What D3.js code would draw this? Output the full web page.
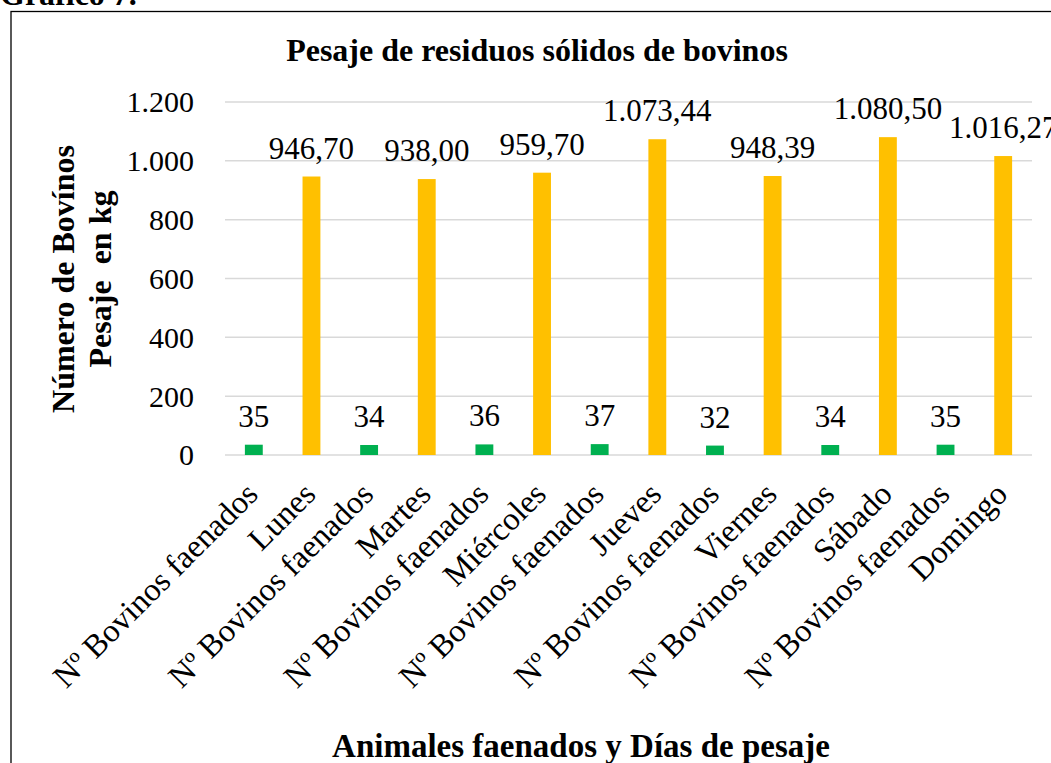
<!DOCTYPE html>
<html><head><meta charset="utf-8">
<script src="https://cdn.jsdelivr.net/npm/d3@7"></script>
<style>body{margin:0;background:#fff;} svg{display:block;} text{font-family:"Liberation Serif","Times New Roman",serif;fill:#000;}</style>
</head><body><svg id="c" width="1051" height="763"></svg>
<script>
const categories = ["Nº Bovinos faenados","Lunes","Nº Bovinos faenados","Martes","Nº Bovinos faenados","Miércoles","Nº Bovinos faenados","Jueves","Nº Bovinos faenados","Viernes","Nº Bovinos faenados","Sábado","Nº Bovinos faenados","Domingo"];
const values = [35,946.70,34,938.00,36,959.70,37,1073.44,32,948.39,34,1080.50,35,1016.27];
const kinds = ["animales","peso","animales","peso","animales","peso","animales","peso","animales","peso","animales","peso","animales","peso"];
const yTicks = [0,200,400,600,800,1000,1200];
const colors = {animales:"#00B050", peso:"#FFC000"};
const title = "Pesaje de residuos sólidos de bovinos";
const xTitle = "Animales faenados y Días de pesaje";
const yTitle = ["Número de Bovínos","Pesaje\u00a0 en kg"];

const svg = d3.select("#c");
const m = {left:225, right:1032, top:102, bottom:455};
const x = d3.scaleBand().domain(d3.range(categories.length)).range([m.left,m.right]).paddingInner(0.69).paddingOuter(0.345);
const y = d3.scaleLinear().domain([0,1200]).range([m.bottom,m.top]);
const fmtNum = v => d3.format(",")(v).replace(/,/g,".");
const fmtLabel = (v,k) => k==="animales" ? String(v) : d3.format(",.2f")(v).replace(/,/g,"#").replace(/\./g,",").replace(/#/g,".");

// frame
svg.append("rect").attr("x",11).attr("y",11.5).attr("width",1060).attr("height",780).attr("fill","none").attr("stroke","#000").attr("stroke-width",1.3);
svg.append("text").attr("x",0).attr("y",5).attr("font-size",32).attr("font-weight","bold").text("Gráfico 7.");

// grid
svg.append("g").selectAll("line").data(yTicks).join("line")
  .attr("x1",m.left).attr("x2",m.right).attr("y1",d=>y(d)).attr("y2",d=>y(d))
  .attr("stroke","#d9d9d9").attr("stroke-width",1.5);

// y axis labels
const ya = svg.append("g").attr("transform",`translate(${m.left-28},0)`)
  .call(d3.axisLeft(y).tickValues(yTicks).tickSize(0).tickFormat(fmtNum));
ya.select(".domain").remove();
ya.selectAll("text").attr("font-size",30).attr("font-family","Liberation Serif").attr("dy","0.33em").attr("fill","#000");

// bars
svg.append("g").selectAll("rect").data(values).join("rect")
  .attr("x",(d,i)=>x(i)).attr("width",x.bandwidth())
  .attr("y",d=>y(d)).attr("height",d=>y(0)-y(d))
  .attr("fill",(d,i)=>colors[kinds[i]]);

// data labels
svg.append("g").selectAll("text").data(values).join("text")
  .attr("x",(d,i)=>x(i)+x.bandwidth()/2).attr("y",d=>y(d)-18)
  .attr("text-anchor","middle").attr("font-size",31)
  .text((d,i)=>fmtLabel(d,kinds[i]));

// x axis labels
const xa = svg.append("g").attr("transform",`translate(0,${m.bottom})`)
  .call(d3.axisBottom(x).tickSize(0).tickFormat(i=>categories[i]));
xa.select(".domain").remove();
xa.selectAll("text").attr("font-size",32.5).attr("font-family","Liberation Serif").attr("fill","#000")
  .attr("text-anchor","end").attr("dy",0).attr("y",0)
  .attr("transform","translate(6,41) rotate(-45)");

// titles
svg.append("text").attr("x",537).attr("y",61).attr("text-anchor","middle").attr("font-size",32).attr("font-weight","bold").text(title);
svg.append("text").attr("x",581).attr("y",757).attr("text-anchor","middle").attr("font-size",33).attr("font-weight","bold").text(xTitle);
const yt = svg.append("text").attr("transform","translate(74,279) rotate(-90)").attr("text-anchor","middle").attr("font-size",32).attr("font-weight","bold");
yt.selectAll("tspan").data(yTitle).join("tspan").attr("x",0).attr("dy",(d,i)=>i===0?0:37).text(d=>d);
</script></body></html>
